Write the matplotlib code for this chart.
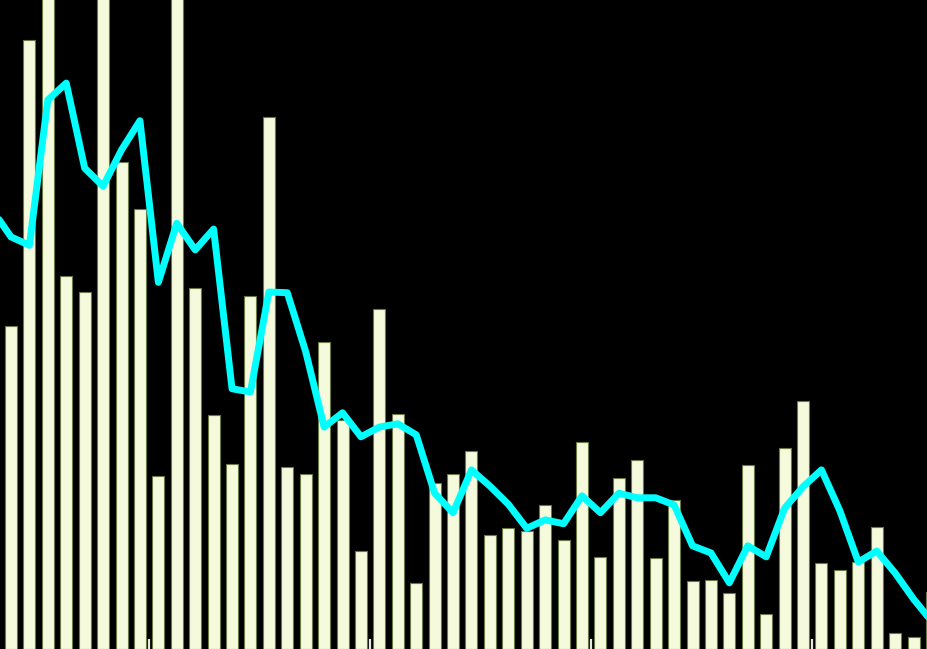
import matplotlib.pyplot as plt

# monthly bars (index 0..50) and the smoothed line (index -1..50)
bar_idx = list(range(51))
bar_vals = [49.8, 93.8, 105.0, 57.5, 55.0, 110.0, 75.0, 67.8, 26.7, 102.0,
            55.6, 36.1, 28.5, 54.4, 82.0, 28.0, 27.0, 47.3, 35.3, 15.1,
            52.4, 36.2, 10.2, 25.6, 27.0, 30.5, 17.6, 18.6, 18.2, 22.2,
            16.8, 31.9, 14.2, 26.3, 29.1, 14.0, 23.0, 10.5, 10.6, 8.6,
            28.4, 5.4, 31.0, 38.2, 13.3, 12.2, 13.4, 18.8, 2.5, 1.8,
            8.8]

line_idx = list(range(-1, 51))
line_vals = [67.6, 63.5, 62.2, 84.6, 87.2, 74.1, 71.3, 76.9, 81.4, 56.5,
             65.6, 61.5, 64.7, 40.1, 39.6, 55.0, 54.9, 45.8, 34.2, 36.4,
             32.7, 34.2, 34.7, 33.0, 24.0, 21.0, 27.6, 25.1, 22.3, 18.6,
             19.9, 19.3, 23.6, 21.0, 24.0, 23.3, 23.3, 22.2, 15.9, 14.8,
             10.2, 15.9, 14.2, 21.7, 25.0, 27.6, 21.3, 13.4, 15.1, 11.7,
             7.7, 4.2]

year_ticks = [7.5, 19.5, 31.5, 43.5]

fig = plt.figure(figsize=(9.27, 6.49), dpi=100, facecolor='black')
ax = fig.add_axes([0, 0, 1, 1])
ax.set_facecolor('black')

ax.bar(bar_idx, bar_vals, width=0.65, color='#F5FADC', edgecolor='#6B7A45', linewidth=0.8)
ax.plot(line_idx, line_vals, color='#00FFFF', linewidth=5.0,
        solid_joinstyle='round', solid_capstyle='round')

ax.set_xlim(-0.597, 49.73)
ax.set_ylim(0, 100)

for s in ax.spines.values():
    s.set_visible(False)
ax.set_xticks(year_ticks)
ax.set_xticklabels([])
ax.set_yticks([])
ax.tick_params(axis='x', direction='in', length=7.5, width=1.6, color='#E8E8E8')

fig.savefig('out.png', dpi=100, facecolor='black')
